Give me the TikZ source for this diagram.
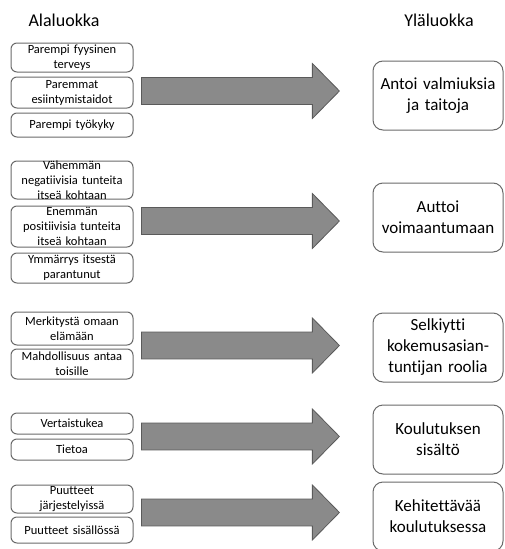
\documentclass[tikz,border=0pt]{standalone}
\usepackage{fontspec}
\setmainfont[Ligatures=NoCommon]{Carlito}
\usetikzlibrary{shapes.arrows}
\definecolor{arrowfill}{HTML}{8A8A8A}
\definecolor{arrowline}{HTML}{5A5A5A}
\definecolor{boxline}{HTML}{6A6A6A}
\begin{document}
\begin{tikzpicture}[x=1pt,y=-1pt,
    subbox/.style={draw=boxline,line width=1pt,rounded corners=6pt,fill=white,
      inner sep=0pt,text width=122pt,minimum width=122pt,align=center,
      font=\fontsize{12.5}{15}\selectfont},
    mainbox/.style={draw=boxline,line width=1pt,rounded corners=10pt,fill=white,
      inner sep=0pt,text width=130pt,minimum width=130pt,minimum height=69pt,
      align=center,font=\fontsize{17}{21}\selectfont},
    bigarrow/.style={single arrow,draw=arrowline,fill=arrowfill,line width=0.8pt,
      minimum height=198pt,minimum width=55pt,single arrow head extend=14pt,
      single arrow tip angle=91,inner sep=13pt,anchor=tail},
    title/.style={font=\fontsize{18}{20}\selectfont,inner sep=0pt}]
    \useasboundingbox (0,0) rectangle (504,549);
    % otsikot
    \node[title] (ala) at (64,20) {Alaluokka};
    \node[title] (yla) at (439,20) {Yläluokka};
    % alaluokat
    \node[subbox,minimum height=29pt] (a1) at (72,57.5) {Parempi fyysinen\\terveys};
    \node[subbox,minimum height=31pt] (a2) at (72,92.5) {Paremmat\\esiintymistaidot};
    \node[subbox,minimum height=24pt] (a3) at (72,125) {Parempi työkyky};
    \node[subbox,minimum height=38pt,inner ysep=-1pt] (b1) at (72,180) {Vähemmän\\negatiivisia tunteita\\itseä kohtaan};
    \node[subbox,minimum height=41pt] (b2) at (72,226.5) {Enemmän\\positiivisia tunteita\\itseä kohtaan};
    \node[subbox,minimum height=30pt] (b3) at (72,268) {Ymmärrys itsestä\\parantunut};
    \node[subbox,minimum height=33pt] (c1) at (72,328.5) {Merkitystä omaan\\elämään};
    \node[subbox,minimum height=30pt] (c2) at (72,364) {Mahdollisuus antaa\\toisille};
    \node[subbox,minimum height=21pt] (d1) at (72,423.5) {Vertaistukea};
    \node[subbox,minimum height=21pt] (d2) at (72,449.5) {Tietoa};
    \node[subbox,minimum height=28pt] (e1) at (72,499) {Puutteet\\järjestelyissä};
    \node[subbox,minimum height=26pt] (e2) at (72,530) {Puutteet sisällössä};
    % nuolet
    \node[bigarrow] (n1) at (141,91) {};
    \node[bigarrow] (n2) at (141,221) {};
    \node[bigarrow] (n3) at (141,345.5) {};
    \node[bigarrow] (n4) at (141,436.5) {};
    \node[bigarrow] (n5) at (141,512.5) {};
    % yläluokat
    \node[mainbox] (r1) at (438,95.5) {Antoi valmiuksia\\ja taitoja};
    \node[mainbox] (r2) at (438,217.5) {Auttoi\\voimaantumaan};
    \node[mainbox] (r3) at (438,347.5) {Selkiytti\\kokemusasian-\\tuntijan roolia};
    \node[mainbox] (r4) at (438,439.5) {Koulutuksen\\sisältö};
    \node[mainbox] (r5) at (438,516.5) {Kehitettävää\\koulutuksessa};
\end{tikzpicture}
\end{document}
